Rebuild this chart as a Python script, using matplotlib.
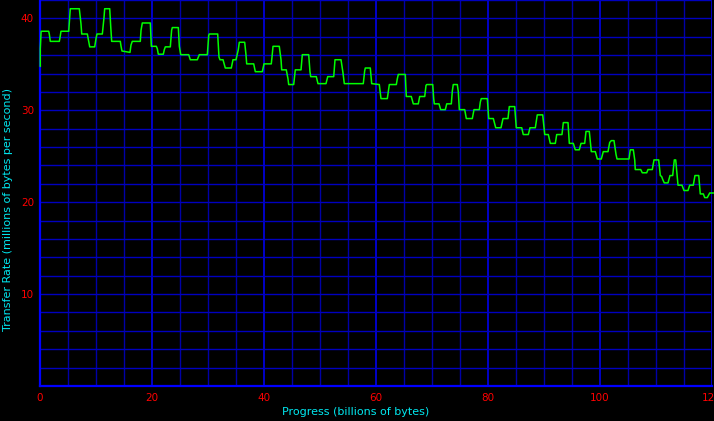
import matplotlib
matplotlib.use("Agg")
import matplotlib.pyplot as plt
from matplotlib.ticker import MultipleLocator

# Progress (billions of bytes)
progress = [
    0.05, 0.05, 0.2, 1.55, 1.66, 1.84, 3.45, 3.57, 3.75, 5.13, 5.3, 5.41, 7.02, 7.32, 7.45,
    8.45, 8.7, 8.88, 9.77, 10.0, 10.18, 11.13, 11.43, 11.55, 12.45, 12.63, 12.8, 14.34, 14.46,
    14.64, 16.07, 16.25, 16.48, 17.91, 18.04, 18.27, 19.7, 19.88,
    20.77, 20.95, 21.13, 22.02, 22.2, 22.38, 23.27, 23.5, 23.63, 24.7, 24.88, 25.13, 26.55,
    26.84, 28.09, 28.45, 29.88, 30.13, 30.23, 31.73, 31.96, 32.14, 32.68, 32.9, 33.09, 34.16,
    34.46, 35.0, 35.41, 35.59, 36.55, 36.79, 36.91, 38.16, 38.45, 39.7, 40.0,
    41.3, 41.43, 41.61, 42.73, 43.04, 43.16, 43.98, 44.29, 44.41, 45.3, 45.59, 46.61, 46.84,
    47.98, 48.21, 48.34, 49.34, 49.64, 51.07, 51.38, 52.45, 52.68, 53.75, 54.1, 54.34, 57.73,
    57.98, 58.09, 58.98, 59.23,
    60.59, 60.89, 62.02, 62.38, 63.63, 63.8, 63.98, 65.23, 65.41, 66.3, 66.66, 67.55, 67.8,
    68.7, 68.93, 69.05, 70.13, 70.3, 70.41, 71.25, 71.55, 72.38, 72.63, 73.45, 73.63, 73.8,
    74.52, 74.7, 74.88, 75.84, 76.13, 77.2, 77.5, 78.45, 78.63, 78.8, 79.88, 80.13,
    80.95, 81.38, 82.32, 82.68, 83.57, 83.8, 84.77, 85.05, 86.02, 86.3, 87.2, 87.5, 88.45,
    88.8, 89.77, 90.13, 90.77, 91.13, 92.02, 92.27, 93.21, 93.45, 94.29, 94.52, 95.23, 95.59,
    96.3, 96.61, 97.27, 97.5, 98.09, 98.45, 99.16, 99.52,
    100.23, 100.59, 101.43, 101.73, 102.02, 102.5, 102.86, 103.04, 105.18, 105.41, 105.95,
    106.2, 106.3, 107.27, 107.55, 108.34, 108.57, 109.34, 109.64, 110.48, 110.77, 111.0,
    111.25, 111.48, 112.14, 112.5, 112.98, 113.27, 113.52, 113.93, 114.64, 115.0, 115.71,
    116.02, 116.66, 116.96, 117.63, 117.91, 118.45, 118.7, 119.16, 119.59, 120.36,
]

# Transfer Rate (millions of bytes per second)
rate = [
    34.8, 36.7, 38.6, 38.6, 38.3, 37.5, 37.5, 37.9, 38.6, 38.6, 40.1, 41.05, 41.05, 39.4, 38.3,
    38.3, 37.5, 36.9, 36.9, 37.8, 38.3, 38.3, 40.1, 41.05, 41.05, 39.1, 37.5, 37.5, 37.0,
    36.45, 36.3, 37.1, 37.5, 37.5, 38.7, 39.5, 39.5, 36.96,
    36.96, 36.7, 36.1, 36.1, 36.6, 36.9, 36.9, 38.7, 39.0, 39.0, 36.96, 36.05, 36.05,
    35.5, 35.5, 36.05, 36.05, 38.15, 38.3, 38.3, 35.8, 35.5, 35.5, 35.0, 34.6, 34.6,
    35.5, 35.5, 36.6, 37.4, 37.4, 36.0, 35.05, 35.05, 34.2, 34.2, 35.05,
    35.05, 35.8, 36.96, 36.96, 35.5, 34.4, 34.4, 33.4, 32.8, 32.8, 34.4, 34.4, 36.05,
    36.05, 34.2, 33.66, 33.66, 32.9, 32.9, 33.66, 33.66, 35.5, 35.5, 34.1, 32.9, 32.9,
    34.3, 34.6, 34.6, 32.9,
    32.8, 31.27, 31.27, 32.8, 32.8, 33.4, 33.9, 33.9, 31.5, 31.5, 30.7, 30.7, 31.5,
    31.5, 32.7, 32.8, 32.8, 31.27, 30.7, 30.7, 30.07, 30.07, 30.7, 30.7, 32.1, 32.8,
    32.8, 32.0, 30.07, 30.07, 29.1, 29.1, 30.07, 30.07, 30.9, 31.27, 31.27, 29.1,
    29.1, 28.1, 28.1, 29.1, 29.1, 30.4, 30.4, 28.1, 28.1, 27.36, 27.36, 28.1, 28.1,
    29.5, 29.5, 27.36, 27.36, 26.4, 26.4, 27.36, 27.36, 28.66, 28.66, 26.4, 26.4, 25.7,
    25.7, 26.4, 26.4, 27.7, 27.7, 25.5, 25.5, 24.7,
    24.7, 25.5, 25.5, 26.5, 26.7, 26.7, 25.2, 24.7, 24.7, 25.7, 25.7,
    24.6, 23.55, 23.55, 23.2, 23.2, 23.55, 23.55, 24.6, 24.6, 22.9, 22.8,
    22.4, 22.1, 22.1, 22.9, 22.9, 24.6, 24.6, 21.85, 21.85, 21.27, 21.27,
    21.85, 21.85, 22.9, 22.9, 20.9, 20.9, 20.5, 20.5, 21.0, 21.0,
]

x_ticks = [0, 20, 40, 60, 80, 100, 120]
x_tick_labels = ["0", "20", "40", "60", "80", "100", "120"]
y_ticks = [10, 20, 30, 40]
y_tick_labels = ["10", "20", "30", "40"]

W, H = 714, 421
fig = plt.figure(figsize=(W / 100, H / 100), dpi=100, facecolor="black")
ax = fig.add_axes([40 / W, (H - 386) / H, (712 - 40) / W, 386 / H])
ax.set_facecolor("black")
ax.set_xlim(0, 120)
ax.set_ylim(0, 42)

# grid
ax.xaxis.set_minor_locator(MultipleLocator(5))
ax.yaxis.set_minor_locator(MultipleLocator(2))
ax.set_xticks(x_ticks)
ax.set_xticklabels(x_tick_labels)
ax.set_yticks(y_ticks)
ax.set_yticklabels(y_tick_labels)
ax.grid(which="minor", axis="x", color="#0000a8", linewidth=1.0)
ax.grid(which="major", axis="x", color="#0000ff", linewidth=1.1)
ax.grid(which="minor", axis="y", color="#0000c0", linewidth=1.0)
ax.grid(which="major", axis="y", color="#0000c0", linewidth=1.0)
ax.set_axisbelow(True)

for s in ["top", "right"]:
    ax.spines[s].set_visible(False)
for s in ["left", "bottom"]:
    ax.spines[s].set_color("#0000ff")
    ax.spines[s].set_linewidth(1.6)

ax.tick_params(which="both", length=0)
ax.tick_params(axis="x", colors="#ff0000", labelsize=7.5, pad=5)
ax.tick_params(axis="y", colors="#ff0000", labelsize=7.5, pad=4.3)

ax.plot(progress, rate, color="#00ff00", linewidth=1.1, clip_on=False, zorder=3)

ax.set_xlabel("Progress (billions of bytes)", color="#00e8f0", fontsize=8)
ax.set_ylabel("Transfer Rate (millions of bytes per second)", color="#00e8f0", fontsize=8)
ax.xaxis.set_label_coords(0.47, -0.067)
ax.xaxis.label.set_va("center")
ax.yaxis.set_label_coords(-0.0476, 0.456)
ax.yaxis.label.set_va("center")

fig.savefig("out.png", dpi=100, facecolor="black")
